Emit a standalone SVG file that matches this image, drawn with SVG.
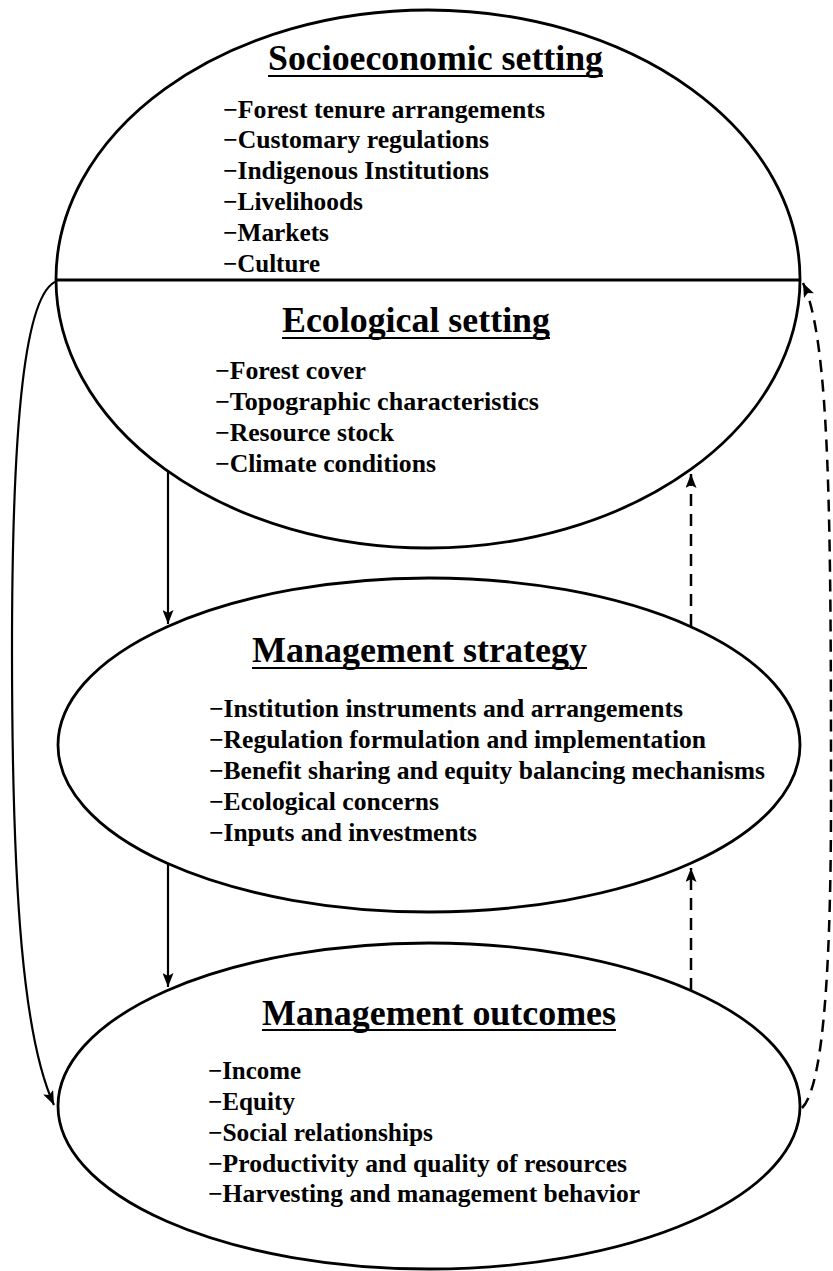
<svg xmlns="http://www.w3.org/2000/svg" width="833" height="1271" viewBox="0 0 833 1271">
  <style>
    .shape { fill: #ffffff; stroke: #000000; stroke-width: 2.8; }
    .title { font-family: "Liberation Serif", "Times New Roman", serif; font-weight: bold; font-size: 35px; fill: #000000; }
    .item { font-family: "Liberation Serif", "Times New Roman", serif; font-weight: bold; font-size: 25px; fill: #000000; }
    .uline { stroke: #000000; stroke-width: 2; }
    .link { fill: none; stroke: #000000; stroke-width: 2.2; }
    .dashed { stroke-dasharray: 12 8; stroke-width: 2.5; }
  </style>
  <defs>
    <marker id="arrow" markerUnits="userSpaceOnUse" markerWidth="15" markerHeight="11" refX="14" refY="5.5" orient="auto">
      <path d="M0,0 L14,5.5 L0,11 L3,5.5 Z" fill="#000000"/>
    </marker>
  </defs>

  <rect width="833" height="1271" fill="#ffffff"/>

  <!-- Upper ellipse: socioeconomic (top half) and ecological (bottom half) settings -->
  <g id="setting">
    <ellipse class="shape" cx="428" cy="279" rx="372" ry="269"/>
    <line x1="56" y1="280" x2="800" y2="280" stroke="#000000" stroke-width="3"/>
  </g>

  <g id="socioeconomic-setting">
    <text class="title" x="268" y="70" textLength="335" lengthAdjust="spacingAndGlyphs">Socioeconomic setting</text>
    <line class="uline" x1="268" y1="76" x2="603" y2="76"/>
    <text class="item" x="223" y="118" textLength="322" lengthAdjust="spacingAndGlyphs">−Forest tenure arrangements</text>
    <text class="item" x="223" y="148" textLength="266" lengthAdjust="spacingAndGlyphs">−Customary regulations</text>
    <text class="item" x="223" y="179" textLength="266" lengthAdjust="spacingAndGlyphs">−Indigenous Institutions</text>
    <text class="item" x="223" y="210" textLength="140" lengthAdjust="spacingAndGlyphs">−Livelihoods</text>
    <text class="item" x="223" y="241" textLength="106" lengthAdjust="spacingAndGlyphs">−Markets</text>
    <text class="item" x="223" y="272" textLength="97" lengthAdjust="spacingAndGlyphs">−Culture</text>
  </g>

  <g id="ecological-setting">
    <text class="title" x="282" y="332" textLength="268" lengthAdjust="spacingAndGlyphs">Ecological setting</text>
    <line class="uline" x1="282" y1="338" x2="550" y2="338"/>
    <text class="item" x="215" y="379" textLength="151" lengthAdjust="spacingAndGlyphs">−Forest cover</text>
    <text class="item" x="215" y="410" textLength="324" lengthAdjust="spacingAndGlyphs">−Topographic characteristics</text>
    <text class="item" x="215" y="441" textLength="179" lengthAdjust="spacingAndGlyphs">−Resource stock</text>
    <text class="item" x="215" y="472" textLength="221" lengthAdjust="spacingAndGlyphs">−Climate conditions</text>
  </g>

  <g id="management-strategy">
    <ellipse class="shape" cx="429" cy="745" rx="371" ry="167"/>
    <text class="title" x="252" y="662" textLength="335" lengthAdjust="spacingAndGlyphs">Management strategy</text>
    <line class="uline" x1="252" y1="668" x2="587" y2="668"/>
    <text class="item" x="209" y="717" textLength="474" lengthAdjust="spacingAndGlyphs">−Institution instruments and arrangements</text>
    <text class="item" x="209" y="748" textLength="497" lengthAdjust="spacingAndGlyphs">−Regulation formulation and implementation</text>
    <text class="item" x="209" y="779" textLength="556" lengthAdjust="spacingAndGlyphs">−Benefit sharing and equity balancing mechanisms</text>
    <text class="item" x="209" y="810" textLength="230" lengthAdjust="spacingAndGlyphs">−Ecological concerns</text>
    <text class="item" x="209" y="841" textLength="268" lengthAdjust="spacingAndGlyphs">−Inputs and investments</text>
  </g>

  <g id="management-outcomes">
    <ellipse class="shape" cx="429" cy="1106" rx="371" ry="163"/>
    <text class="title" x="262" y="1025" textLength="354" lengthAdjust="spacingAndGlyphs">Management outcomes</text>
    <line class="uline" x1="262" y1="1030" x2="616" y2="1030"/>
    <text class="item" x="208" y="1079" textLength="93" lengthAdjust="spacingAndGlyphs">−Income</text>
    <text class="item" x="208" y="1110" textLength="87" lengthAdjust="spacingAndGlyphs">−Equity</text>
    <text class="item" x="208" y="1141" textLength="225" lengthAdjust="spacingAndGlyphs">−Social relationships</text>
    <text class="item" x="208" y="1172" textLength="419" lengthAdjust="spacingAndGlyphs">−Productivity and quality of resources</text>
    <text class="item" x="208" y="1202" textLength="432" lengthAdjust="spacingAndGlyphs">−Harvesting and management behavior</text>
  </g>

  <!-- Connectors: solid = influence, dashed = feedback -->
  <g id="connectors">
    <line class="link" x1="168" y1="471" x2="168" y2="624" marker-end="url(#arrow)"/>
    <line class="link" x1="168" y1="864" x2="168" y2="987" marker-end="url(#arrow)"/>
    <line class="link dashed" x1="691" y1="626" x2="691" y2="474" marker-end="url(#arrow)"/>
    <line class="link dashed" x1="691" y1="990" x2="691" y2="868" marker-end="url(#arrow)"/>
    <path class="link" d="M57 281 C25 292, 12 420, 12 650 C12 900, 24 1040, 54 1105" marker-end="url(#arrow)"/>
    <path class="link dashed" d="M802 1108 C820 1090, 831 1000, 831 800 C831 520, 830 340, 803 283" marker-end="url(#arrow)"/>
  </g>
</svg>
